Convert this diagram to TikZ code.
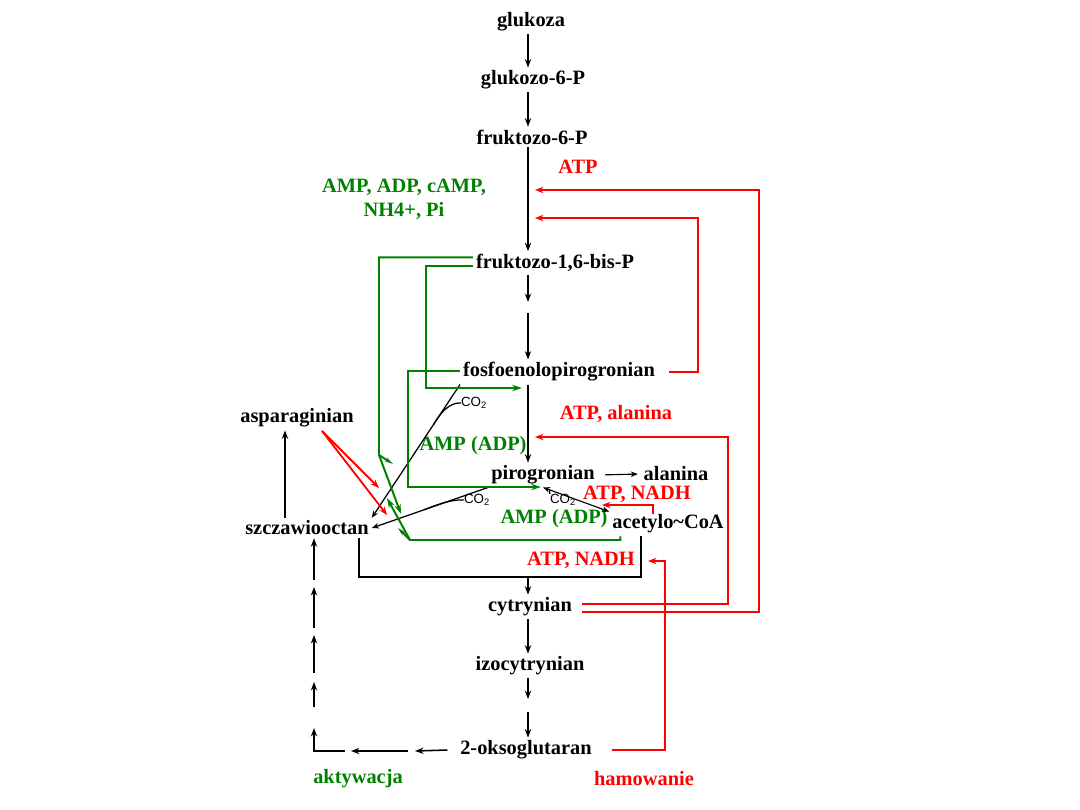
\documentclass[tikz,border=0pt]{standalone}
\usepackage{fontspec}
\setmainfont{Liberation Serif}
\setsansfont{Liberation Sans}
\usepackage{xcolor}
\usepackage{tikz}
\usetikzlibrary{arrows.meta, calc}

\definecolor{dgreen}{RGB}{0,128,0}
\newcommand{\fsz}{\fontsize{14.5}{17}\selectfont}
\newcommand{\csz}{\fontsize{9.5}{11}\selectfont}

\begin{document}
\begin{tikzpicture}[
    x=0.025cm, y=-0.025cm,
    metab/.style={font=\bfseries\fsz, inner sep=2pt},
    actlab/.style={metab, text=dgreen},
    inhlab/.style={metab, text=red},
    co2/.style={font=\sffamily\csz, inner sep=0pt},
    arr/.style={-{Stealth[length=6pt, width=4.5pt]}, line width=1.1pt},
    thinarr/.style={-{Stealth[length=5pt, width=4pt]}, line width=0.8pt},
    act/.style={draw=dgreen, line width=1.4pt, -{Stealth[length=7pt, width=4.5pt]}},
    inh/.style={draw=red, line width=1.3pt, -{Stealth[length=6pt, width=4.5pt]}},
]
\useasboundingbox (0,0) rectangle (1080,810);

% Metabolites
\node[metab] (gluk) at (531,22) {glukoza};
\node[metab] (g6p) at (533,80) {glukozo-6-P};
\node[metab] (f6p) at (532,137) {fruktozo-6-P};
\node[metab] (fbp) at (555,263) {fruktozo-1,6-bis-P};
\node[metab] (pep) at (559,372) {fosfoenolopirogronian};
\node[metab] (pir) at (543,475) {pirogronian};
\node[metab] (ala) at (676,474) {alanina};
\node[metab] (acoa) at (668,524) {acetylo\textasciitilde CoA};
\node[metab] (szcz) at (307,528) {szczawiooctan};
\node[metab] (asp) at (297,418) {asparaginian};
\node[metab] (cyt) at (530,607) {cytrynian};
\node[metab] (izo) at (530,666) {izocytrynian};
\node[metab] (okso) at (526,750) {2-oksoglutaran};

% Effectors
\node[inhlab] (atp1) at (578,167) {ATP};
\node[actlab, align=center] (amp1) at (404,199) {AMP, ADP, cAMP,\\NH4+, Pi};
\node[inhlab] (atpala) at (616,414) {ATP, alanina};
\node[actlab] (amp2) at (473,446) {AMP (ADP)};
\node[inhlab] (nadh1) at (637,494) {ATP, NADH};
\node[actlab] (amp3) at (554,519) {AMP (ADP)};
\node[inhlab] (nadh2) at (581,560) {ATP, NADH};
\node[actlab] (aktyw) at (358,779) {aktywacja};
\node[inhlab] (hamow) at (644,779) {hamowanie};

\node[co2] (co2a) at (474,403) {CO\textsubscript{2}};
\node[co2] (co2b) at (477,500) {CO\textsubscript{2}};
\node[co2] (co2c) at (563,500) {CO\textsubscript{2}};

% Main column
\coordinate (col) at (528,0);
\coordinate (colr) at (535,0);
\draw[arr] (col |- gluk.south) -- (col |- g6p.north);
\draw[arr] (col |- g6p.south) -- (col |- f6p.north);
\draw[arr] (col |- f6p.south) -- (col |- fbp.north);
\coordinate (d1) at (528,302);
\coordinate (d2) at (528,313);
\draw[arr] (col |- fbp.south) -- (d1);
\draw[arr] (d2) -- (col |- pep.north);
\draw[arr] (col |- pep.south) -- (col |- pir.north);
\draw[thinarr, shorten <=5pt, shorten >=2pt] (pir.east) -- (ala.west);
\draw[thinarr, {Stealth[length=5pt, width=4pt]}-{Stealth[length=5pt, width=4pt]}] (pir.south) -- (acoa.north west);
\coordinate (h3) at ($(pir.south)!0.1!(acoa.north west)$);
\draw[line width=0.8pt] (h3) to[bend right=25] (co2c.north west);

% Side reactions into szczawiooctan
\draw[thinarr, line width=0.9pt] (pep.south west) -- (szcz.north east);
\coordinate (h1) at ($(pep.south west)!0.3!(szcz.north east)$);
\draw[line width=0.9pt] (co2a.west) .. controls (450,402) and (440,413) .. (h1);
\draw[thinarr, line width=0.9pt] (pir.south west) -- (szcz.east);
\coordinate (h2) at ($(pir.south west)!0.55!(szcz.east)$);
\draw[line width=0.9pt] (co2b.west) .. controls (452,499) and (436,505) .. (h2);
\coordinate (aspcol) at (285,0);
\draw[arr] (aspcol |- szcz.north) -- (aspcol |- asp.south);

% Citric acid cycle
\coordinate (b1) at (641,0);
\coordinate (b2) at (359,577);
\draw[line width=0.8pt] (b1 |- acoa.south) |- (b2) -- (b2 |- szcz.south);
\draw[arr] (col |- b2) -- (col |- cyt.north);
\draw[arr] (col |- cyt.south) -- (col |- izo.north);
\coordinate (d3) at (528,699);
\coordinate (d4) at (528,712);
\draw[arr] (col |- izo.south) -- (d3);
\draw[arr] (d4) -- (col |- okso.north);
\coordinate (k1) at (415,751);
\coordinate (k2) at (408,751);
\coordinate (k3) at (351,751);
\coordinate (k4) at (345,751);
\coordinate (k5) at (314,728);
\draw[arr] ([xshift=-7pt]okso.west) -- (k1);
\draw[arr] (k2) -- (k3);
\draw[arr] (k4) -| (k5);
\foreach \lo/\hi in {707/682, 673/635, 628/587}
    \draw[arr] (314,\lo) -- (314,\hi);
\coordinate (k6) at (314,580);
\draw[arr] (k6) -- (k6 |- szcz.south);

% Activation (green)
\coordinate (g1) at (379,455);
\coordinate (g2) at (401,514);
\coordinate (g3) at (410,540);
\coordinate (g4) at (387,498);
\draw[act] ([yshift=4pt]fbp.west) -| (g1) -- (g2);
\draw[act, -{Stealth[length=6pt, width=3pt]}] (g1) -- (393,464);
\draw[act] ([xshift=8pt]acoa.south west) |- (g3) -- (g4);
\draw[act, -{Stealth[length=6pt, width=3pt]}] (g3) -- (398,528);
\coordinate (g5) at (426,388);
\coordinate (g6) at (522,388);
\draw[act] ([yshift=-2pt]fbp.west) -| (g5) -- (g6);
\coordinate (g7) at (408,487);
\coordinate (g8) at (541,487);
\draw[act] ([yshift=1pt]pep.west) -| (g7) -- (g8);

% Inhibition (red)
\coordinate (r1) at (698,218);
\coordinate (r2) at (728,437);
\coordinate (r3) at (759,190);
\coordinate (r4) at (665,561);
\coordinate (r4e) at (648,561);
\coordinate (r5) at (653,514);
\coordinate (r5e) at (602,505);
\draw[inh] ([xshift=8pt]pep.east) -| (r1) -- (r1 -| colr);
\draw[inh] ([xshift=5pt, yshift=2pt]cyt.east) -| (r2) -- (r2 -| colr);
\draw[inh] ([xshift=5pt, yshift=-3.5pt]cyt.east) -| (r3) -- (r3 -| colr);
\draw[inh] ([xshift=12pt]okso.east) -| (r4) -- (r4e);
\draw[inh] (r5) |- (r5e);
\coordinate (asp0) at (322,431);
\coordinate (t1) at (379,488);
\coordinate (t2) at (387,515);
\draw[inh] (asp0) -- (t1);
\draw[inh] (asp0) -- (t2);

\end{tikzpicture}
\end{document}
